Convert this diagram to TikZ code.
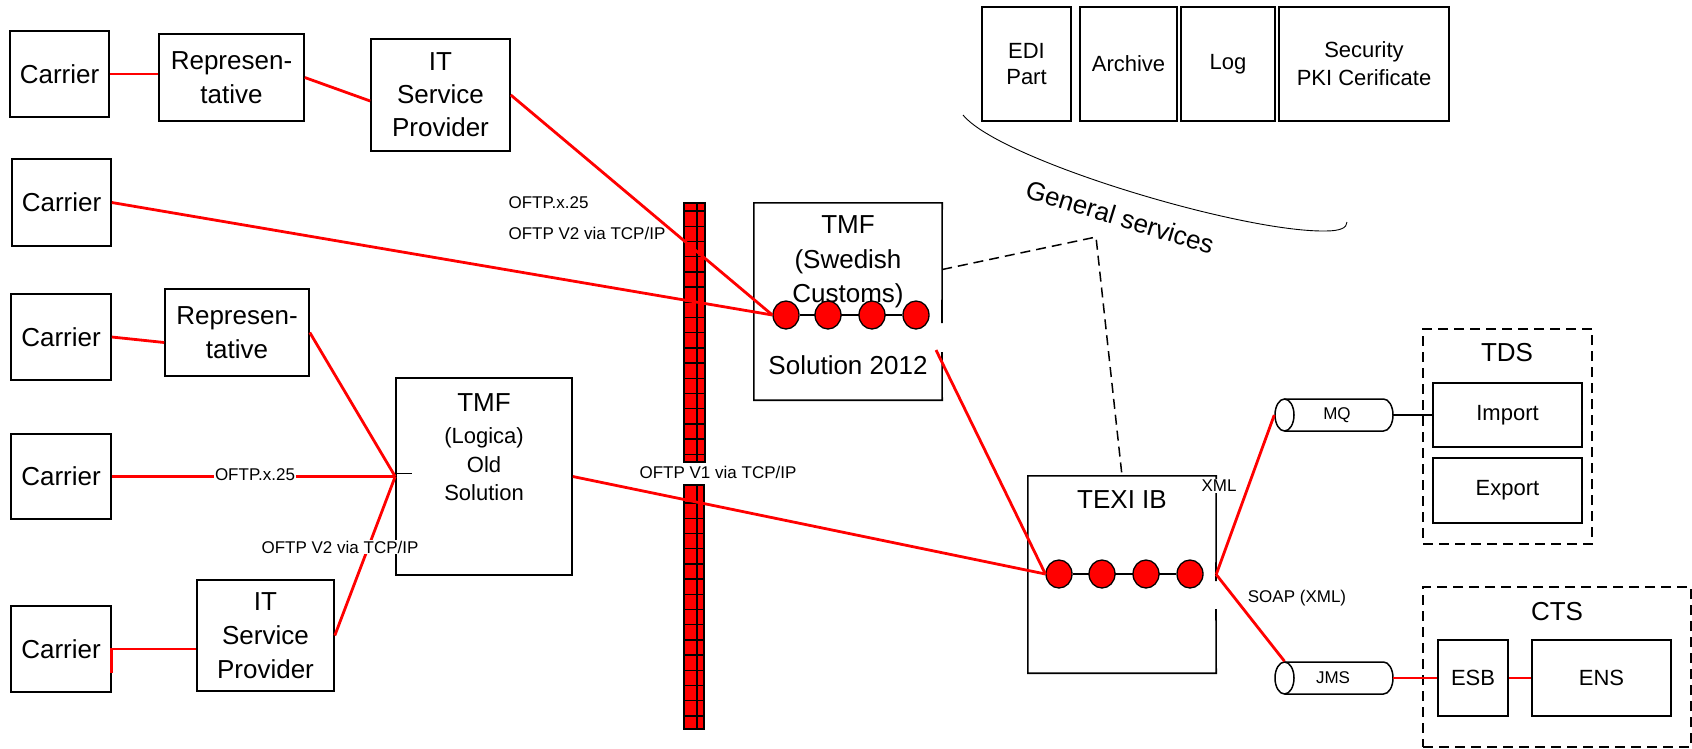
\documentclass[tikz,border=0pt]{standalone}
\usepackage{fontspec}
\setmainfont{Liberation Sans}
\usetikzlibrary{shapes.geometric,calc,backgrounds}
\begin{document}
\begin{tikzpicture}[x=1pt,y=-1pt,
  bx/.style={draw, line width=1.6pt, inner sep=0pt, align=center},
  bl/.style={draw=black, line width=1.6pt},
  rl/.style={draw=red, line width=2.8pt},
  dsh/.style={draw=black, line width=1.5pt, dash pattern=on 10pt off 6pt},
  big/.style={font=\fontsize{26}{34}\selectfont, align=center},
  mid/.style={font=\fontsize{22}{27}\selectfont, align=center},
  sml/.style={font=\fontsize{17}{20}\selectfont},
  dot/.style={ellipse, draw=black, fill=red, line width=1.3pt, minimum width=26pt, minimum height=28pt, inner sep=0pt},
  lbl/.style={sml, fill=white, inner sep=1pt}
]
\useasboundingbox (0,0) rectangle (1692,748);
\begin{scope}[on background layer]
  \fill[white] (0,0) rectangle (1692,748);
\end{scope}

% ---------------- left side boxes
\node[bx,big,minimum width=99pt,minimum height=86pt] (carrier1) at (59.5,74) {Carrier};
\node[bx,big,minimum width=145pt,minimum height=87pt] (rep1) at (231.5,77.5) {Represen-\\tative};
\node[bx,big,minimum width=139pt,minimum height=112pt,font=\fontsize{26}{33}\selectfont] (itsp1) at (440.5,95) {IT\\Service\\Provider};
\node[bx,big,minimum width=99pt,minimum height=87pt] (carrier2) at (61.5,202.5) {Carrier};
\node[bx,big,minimum width=100pt,minimum height=86pt] (carrier3) at (61,337) {Carrier};
\node[bx,big,minimum width=144pt,minimum height=87pt] (rep2) at (237,332.5) {Represen-\\tative};
\node[bx,big,minimum width=100pt,minimum height=85pt] (carrier4) at (61,476.5) {Carrier};
\node[bx,big,minimum width=100pt,minimum height=86pt] (carrier5) at (61,649) {Carrier};
\node[bx,big,minimum width=137pt,minimum height=111pt] (itsp2) at (265.5,635.5) {IT\\Service\\Provider};

% ---------------- TMF Logica
\node[bx,minimum width=176pt,minimum height=197pt] (tmfL) at (484,476.5) {};
\node[big] (tmfLt) at (484,403) {TMF};
\node[mid,font=\fontsize{22}{28.5}\selectfont] (tmfLs) at (484,464.5) {(Logica)\\Old\\Solution};

% ---------------- firewall
\fill[red] (684,203) rectangle (705,462);
\fill[red] (684,485) rectangle (704,729);
\draw[line width=1.4pt] (684,203) rectangle (705,462);
\draw[line width=1.4pt] (684,485) rectangle (704,729);
\draw[line width=1.4pt] (697,203) -- (697,462);
\draw[line width=1.4pt] (697,485) -- (697,729);
\foreach \i [evaluate=\i as \y using 211+15.2*\i] in {0,...,16}
  \draw[line width=1.4pt] (684,\y) -- (705,\y);
\foreach \i [evaluate=\i as \y using 503+15.2*\i] in {0,...,14}
  \draw[line width=1.4pt] (684,\y) -- (704,\y);

% ---------------- TMF Swedish Customs
\node[minimum width=188pt,minimum height=197pt,inner sep=0pt] (tmfS) at (848,301.5) {};
\draw[bl] (942,352) -- (tmfS.south east) -- (tmfS.south west) -- (tmfS.north west) -- (tmfS.north east) -- (942,323);
\node[big,font=\fontsize{26}{34.5}\selectfont] (tmfSt) at (848,262) {TMF\\(Swedish\\Customs)};
\node[big] (tmfSs) at (848,365) {Solution 2012};
\node[dot] (s1) at (786,315) {};
\node[dot] (s2) at (828,315) {};
\node[dot] (s3) at (872,315) {};
\node[dot] (s4) at (916,315) {};
\begin{scope}[on background layer]
  \draw[line width=1.3pt] (s1) -- (s4);
\end{scope}
\coordinate (tmfSout) at (936,350);

% ---------------- general services
\node[bx,mid,minimum width=89pt,minimum height=114pt,font=\fontsize{22}{26}\selectfont] (edi) at (1026.5,64) {EDI\\Part};
\node[bx,mid,minimum width=97pt,minimum height=114pt] (archive) at (1128.5,64) {Archive};
\node[bx,mid,minimum width=94pt,minimum height=114pt] (log) at (1228,64) {Log};
\node[bx,mid,minimum width=170pt,minimum height=114pt,font=\fontsize{22}{28}\selectfont] (security) at (1364,64) {Security\\PKI Cerificate};
\draw[line width=0.9pt] (963,115) .. controls (1000,160) and (1240,232) .. (1325,231)
  .. controls (1340,231) and (1347,228) .. (1347,222);
\node[big,rotate=-17] (gs) at (1120,217) {General services};
\coordinate (gsc) at (1096,237);

% ---------------- TEXI IB
\node[minimum width=188pt,minimum height=197pt,inner sep=0pt] (texi) at (1122,574.5) {};
\draw[bl] (1216,609) -- (texi.south east) -- (texi.south west) -- (texi.north west) -- (texi.north east) -- (1216,581);
\node[big] (texit) at (1122,500) {TEXI IB};
\node[dot] (t1) at (1059,574) {};
\node[dot] (t2) at (1102,574) {};
\node[dot] (t3) at (1146,574) {};
\node[dot] (t4) at (1190,574) {};
\begin{scope}[on background layer]
  \draw[line width=1.3pt] (t1) -- (t4);
\end{scope}

% ---------------- queues
\draw[line width=1.5pt] (1284.5,399) -- (1383.5,399) arc[start angle=90, end angle=-90, x radius=9.5pt, y radius=16pt] -- (1284.5,431);
\node[ellipse,draw,line width=1.5pt,fill=white,minimum width=19pt,minimum height=32pt,inner sep=0pt] (mqL) at (1284.5,415) {};
\node[sml] (mq) at (1337,415) {MQ};
\coordinate (mqR) at (1393,415);
\draw[line width=1.5pt] (1284.5,662) -- (1383.5,662) arc[start angle=90, end angle=-90, x radius=9.5pt, y radius=16pt] -- (1284.5,694);
\node[ellipse,draw,line width=1.5pt,fill=white,minimum width=19pt,minimum height=32pt,inner sep=0pt] (jmsL) at (1284.5,678) {};
\node[sml] (jms) at (1333,678) {JMS};
\coordinate (jmsR) at (1393,678);

% ---------------- TDS / CTS
\node[dsh,minimum width=169pt,minimum height=215pt,inner sep=0pt] (tds) at (1507.5,436.5) {};
\node[big] (tdst) at (1507,353) {TDS};
\node[bx,mid,minimum width=149pt,minimum height=64pt] (import) at (1507.5,415) {Import};
\node[bx,mid,minimum width=149pt,minimum height=65pt] (export) at (1507.5,490.5) {Export};
\node[dsh,minimum width=268pt,minimum height=160pt,inner sep=0pt] (cts) at (1557,667) {};
\node[big] (ctst) at (1557,612) {CTS};
\node[bx,mid,minimum width=70pt,minimum height=76pt] (esb) at (1473,678) {ESB};
\node[bx,mid,minimum width=139pt,minimum height=76pt] (ens) at (1601.5,678) {ENS};

% ---------------- connectors
\draw[rl] (carrier1.east) -- (carrier1.east -| rep1.west);
\draw[rl] (rep1.east) -- ($(itsp1.west)+(0,6)$);
\draw[rl] (itsp1.east) -- (s1.west);
\draw[rl] (carrier2.east) -- (s1.west);
\draw[rl] (carrier3.east) -- ($(rep2.west)+(0,10)$);
\draw[rl] (rep2.east) -- (tmfL.west);
\draw[rl] (carrier4.east) -- (tmfL.west);
\draw[rl] (itsp2.east) -- (tmfL.west);
\draw[rl] (itsp2.west |- carrier5.east) -- (carrier5.east) -- ++(0,24);
\draw[bl,line width=1.3pt] ($(tmfL.west)+(0,-3)$) -- ++(17,0);
\draw[rl] (tmfSout) -- (t1.west);
\draw[rl] (tmfL.east) -- (t1.west);
\draw[rl] (texi.east) -- (mqL.west);
\draw[rl] (texi.east) -- (jmsL.north);
\draw[rl] (jmsR) -- (esb.west);
\draw[rl] (esb.east) -- (ens.west);
\draw[bl,line width=1.5pt] (mqR) -- (import.west);
\draw[dsh] ($(tmfS.east)+(0,-32)$) -- (gsc) -- (texi.north);

% ---------------- labels
\node[sml,anchor=west] (l1) at (505,203) {OFTP.x.25};
\node[sml,anchor=west] (l2) at (505,233) {OFTP V2 via TCP/IP};
\node[lbl] (l3) at (255,475) {OFTP.x.25};
\node[lbl] (l4) at (340,547) {OFTP V2 via TCP/IP};
\node[sml] (l5) at (718,472) {OFTP V1 via TCP/IP};
\node[lbl] (lxml) at (1219,486) {XML};
\node[sml] (lsoap) at (1297,598) {SOAP (XML)};
\end{tikzpicture}
\end{document}
